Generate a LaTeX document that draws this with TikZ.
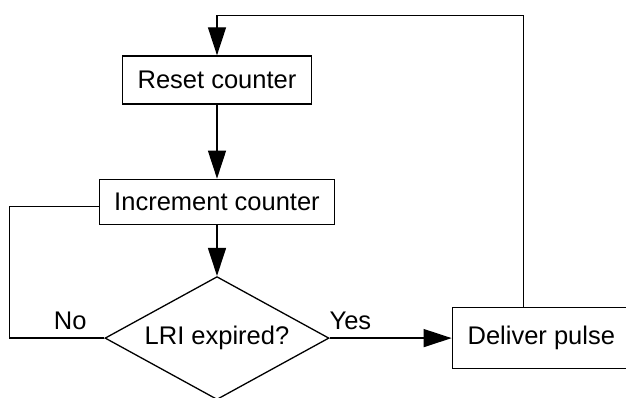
\documentclass[tikz,border=0pt]{standalone}
\usepackage{fontspec}
\setmainfont{Liberation Sans}
\usetikzlibrary{positioning,arrows.meta,shapes.geometric}
\tikzset{
  line/.style = {-{Triangle[length=28pt, width=18pt]}, line width=1.3pt},
  link/.style = {line width=1.3pt},
  box/.style  = {draw, line width=1.3pt, align=center, inner sep=0pt,
                 font=\fontsize{25.5}{30}\selectfont},
  decision/.style = {box, diamond, aspect=1.8, minimum width=224pt, minimum height=123pt},
}

\begin{document}
\begin{tikzpicture}[x=1pt, y=1pt, node distance=74pt]
  \useasboundingbox (0,0) rectangle (626,-398);
  \node[box, minimum width=189pt, minimum height=48pt] (reset) at (217,-80) {Reset counter};
  \node[box, minimum width=235pt, minimum height=45pt, below=74pt of reset] (inc) {Increment counter};
  \node[decision, below=51pt of inc] (lri) {LRI expired?};
  \node[box, minimum width=178pt, minimum height=61pt, right=122pt of lri] (pulse) {Deliver pulse};
  \draw[line] (reset) -- (inc);
  \draw[line] (inc) -- (lri);
  \draw[line] (lri) -- node[pos=0.17, above=4pt]{\fontsize{25.5}{30}\selectfont Yes} (pulse);
  \draw[link] (lri.west) -- node[pos=0.36, above=4pt]{\fontsize{25.5}{30}\selectfont No} ++(-95,0)
    |- ([yshift=-5pt]inc.west);
  \draw[line] ([xshift=-18pt]pulse.north) |- ([yshift=40pt]reset.north) -- (reset.north);
\end{tikzpicture}
\end{document}
